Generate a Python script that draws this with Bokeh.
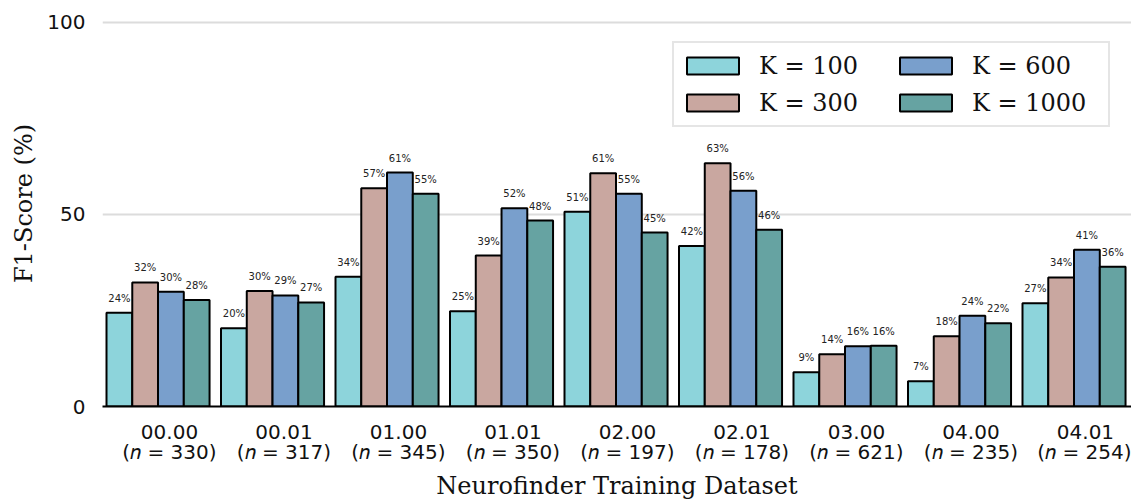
from bokeh.plotting import figure
from bokeh.models import (ColumnDataSource, FixedTicker, LabelSet, Legend,
                          LegendItem, Range1d, LinearAxis)
from bokeh.core.properties import value
from bokeh.embed import file_html
from bokeh.resources import INLINE

datasets = ["00.00", "00.01", "01.00", "01.01", "02.00", "02.01", "03.00", "04.00", "04.01"]
counts = [330, 317, 345, 350, 197, 178, 621, 235, 254]
series_names = ["K = 100", "K = 300", "K = 600", "K = 1000"]
k100 = [24.4, 20.4, 33.8, 24.8, 50.7, 41.8, 8.9, 6.6, 26.9]
k300 = [32.3, 30.1, 56.8, 39.3, 60.7, 63.3, 13.6, 18.3, 33.6]
k600 = [29.9, 28.9, 60.9, 51.6, 55.4, 56.2, 15.7, 23.6, 40.8]
k1000 = [27.7, 27.1, 55.4, 48.4, 45.3, 46.0, 15.8, 21.7, 36.4]
colors = ["#8DD4DB", "#C9A7A0", "#799FCC", "#66A3A2"]

series = [k100, k300, k600, k1000]
bar_w = 0.225
offsets = [-1.5, -0.5, 0.5, 1.5]

p = figure(width=1131, height=502,
           x_range=Range1d(-0.485, 8.502), y_range=Range1d(0, 105.7),
           output_backend="svg", toolbar_location=None,
           min_border_left=102, min_border_right=0, min_border_top=0,
           min_border_bottom=95)
p.outline_line_color = None
p.background_fill_color = "white"
p.border_fill_color = "white"

renderers = []
lab_x, lab_y, lab_t = [], [], []
for j, vals in enumerate(series):
    xs = [i + offsets[j] * bar_w for i in range(len(datasets))]
    src = ColumnDataSource(dict(x=xs, top=vals))
    r = p.vbar(x="x", top="top", width=bar_w, bottom=0, source=src,
               fill_color=colors[j], line_color="black", line_width=2)
    renderers.append(r)
    lab_x += xs
    lab_y += vals
    lab_t += [f"{v:.0f}%" for v in vals]

lsrc = ColumnDataSource(dict(x=lab_x, y=lab_y, text=lab_t))
labels = LabelSet(x="x", y="y", text="text", source=lsrc, y_offset=11,
                  text_align="center", text_baseline="alphabetic",
                  text_font=value("DejaVu Sans"), text_font_size="10px",
                  text_color="#222222")
p.add_layout(labels)

# grid
p.xgrid.grid_line_color = None
p.ygrid.ticker = FixedTicker(ticks=[50, 100])
p.ygrid.grid_line_color = "#dcdcdc"
p.ygrid.grid_line_width = 2

# y axis
p.yaxis.ticker = FixedTicker(ticks=[0, 50, 100])
p.yaxis.axis_line_color = None
p.yaxis.major_tick_line_color = None
p.yaxis.minor_tick_line_color = None
p.yaxis.major_tick_out = 0
p.yaxis.minor_tick_out = 0
p.yaxis.major_label_text_font = "DejaVu Sans"
p.yaxis.major_label_text_font_size = "20px"
p.yaxis.major_label_text_color = "#111111"
p.yaxis.major_label_standoff = 17
p.yaxis.axis_label = "F1-Score (%)"
p.yaxis.axis_label_text_font = "DejaVu Serif"
p.yaxis.axis_label_text_font_size = "24px"
p.yaxis.axis_label_text_font_style = "normal"
p.yaxis.axis_label_text_color = "#111111"
p.yaxis.axis_label_standoff = 6

# x axis: first line (dataset id)
tick_pos = [i + 0.1 for i in range(len(datasets))]
xa = p.xaxis[0]
xa.ticker = FixedTicker(ticks=tick_pos)
xa.major_label_overrides = {t: d for t, d in zip(tick_pos, datasets)}
xa.axis_line_color = "black"
xa.axis_line_width = 2
xa.major_tick_line_color = None
xa.minor_tick_line_color = None
xa.major_tick_out = 0
xa.minor_tick_out = 0
xa.major_label_standoff = 18
xa.major_label_text_font = "DejaVu Sans"
xa.major_label_text_font_size = "20px"
xa.major_label_text_color = "#111111"

# x axis: second line (sample count) and the axis title
xb = LinearAxis(ticker=FixedTicker(ticks=tick_pos))
xb.major_label_overrides = {t: f"(\U0001D45B = {n})" for t, n in zip(tick_pos, counts)}
xb.axis_line_color = None
xb.major_tick_line_color = None
xb.minor_tick_line_color = None
xb.major_tick_out = 0
xb.minor_tick_out = 0
xb.major_label_standoff = -2
xb.major_label_text_font = "DejaVu Sans"
xb.major_label_text_font_size = "20px"
xb.major_label_text_color = "#111111"
xb.axis_label = "Neurofinder Training Dataset"
xb.axis_label_text_font = "DejaVu Serif"
xb.axis_label_text_font_size = "24px"
xb.axis_label_text_font_style = "normal"
xb.axis_label_text_color = "#111111"
xb.axis_label_standoff = 5
p.add_layout(xb, "below")

legend = Legend(
    items=[LegendItem(label=series_names[j], renderers=[renderers[j]]) for j in range(4)],
    ncols=2, location=(570, 279),
    glyph_width=65, glyph_height=21, label_standoff=14,
    label_width=130, label_height=33, spacing=4, padding=6,
    label_text_font="DejaVu Serif", label_text_font_size="24px",
    label_text_color="#111111",
    border_line_color="#cccccc", border_line_width=2,
    background_fill_color="white", background_fill_alpha=0.85,
)
p.add_layout(legend)

open("out.html", "w").write(file_html(p, INLINE))
